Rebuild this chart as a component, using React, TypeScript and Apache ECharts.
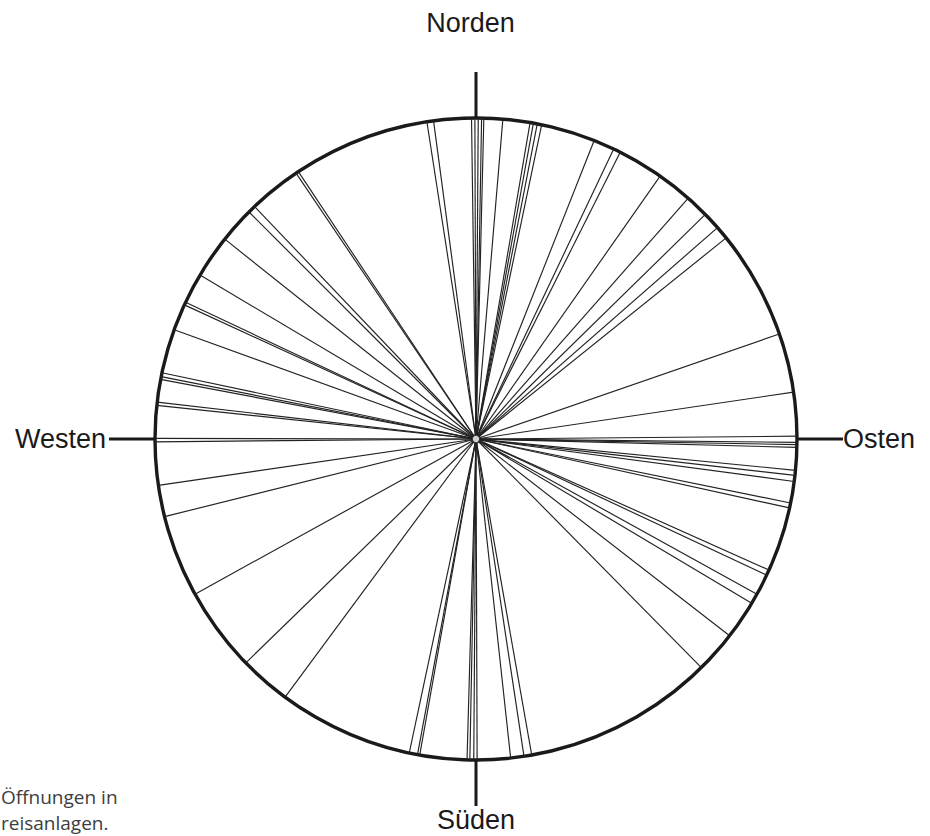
import React, { useEffect, useRef } from 'react';
import * as echarts from 'echarts';

// Compass directions (bearing in degrees, clockwise from north)
const directionAngles = [0, 90, 180, 270];
const directionLabels = ['Norden', 'Osten', 'Süden', 'Westen'];
const directionKeys = ['n', 'o', 's', 'w'];

// Bearings of the openings (degrees clockwise from north)
const openingBearings = [
  351.2, 352.4, 359.2, 359.8, 0.4, 1.0, 1.4, 4.8, 9.7, 10.3, 11.0, 11.8,
  21.6, 25.4, 26.7, 35.0, 41.4, 45.6, 48.8, 51.2, 70.9, 81.6,
  89.5, 90.6, 91.0, 91.5, 95.6, 96.5, 97.6, 101.5, 102.4,
  114.1, 115.1, 118.9, 120.8, 127.8, 135.4,
  170.0, 171.4, 173.8, 179.8, 180.4, 181.1, 181.6, 190.1, 190.5, 192.0,
  216.5, 225.8, 241.1, 256.0, 261.7, 269.5, 270.1, 276.0, 276.6,
  280.7, 281.2, 281.9, 289.9, 294.7, 295.2, 300.7, 308.5, 315.0, 316.4,
  325.9, 326.4,
];

const captionLines = ['Öffnungen in', 'reisanlagen.'];

const LABEL_FONT = '"Liberation Sans", Arial, Helvetica, sans-serif';
const INK = '#1a1a1a';

export default function App() {
  const ref = useRef<HTMLDivElement>(null);

  useEffect(() => {
    if (!ref.current) return;
    const chart = echarts.init(ref.current, null, { renderer: 'svg' });

    const richBase = { fontSize: 27, fontFamily: LABEL_FONT, color: INK };

    chart.setOption({
      animation: false,
      backgroundColor: '#ffffff',
      polar: { center: [476, 439], radius: 321 },
      angleAxis: {
        type: 'value',
        min: 0,
        max: 360,
        interval: 90,
        startAngle: 90,
        clockwise: true,
        axisLine: { show: true, lineStyle: { color: INK, width: 3.4 } },
        axisTick: { show: true, length: 46, lineStyle: { color: INK, width: 3 } },
        splitLine: { show: false },
        axisLabel: {
          show: true,
          margin: 46,
          fontSize: 27,
          fontFamily: LABEL_FONT,
          color: INK,
          formatter: (value: number) => {
            const i = directionAngles.indexOf(((value % 360) + 360) % 360);
            if (i < 0) return '';
            return `{${directionKeys[i]}|${directionLabels[i]}}`;
          },
          rich: {
            n: { ...richBase, padding: [0, 11, 36, 0] },
            o: { ...richBase, padding: [0, 0, 0, 0] },
            s: { ...richBase },
            w: { ...richBase, padding: [0, 3, 0, 0] },
          },
        },
      },
      radiusAxis: {
        type: 'value',
        min: 0,
        max: 1,
        show: false,
        axisLine: { show: false },
        axisTick: { show: false },
        axisLabel: { show: false },
        splitLine: { show: false },
      },
      graphic: captionLines.map((t, i) => ({
        type: 'text',
        left: 1,
        top: 787 + i * 26,
        style: {
          text: t,
          font: '19px "Open Sans", "Noto Sans", sans-serif',
          fill: '#3d3d3d',
        },
      })),
      series: [
        {
          type: 'custom',
          coordinateSystem: 'polar',
          data: openingBearings.map((b) => [1, b]),
          renderItem: (params: any, api: any) => {
            const angle = api.value(1);
            const p0 = api.coord([0, angle]);
            const p1 = api.coord([1, angle]);
            return {
              type: 'line',
              shape: { x1: p0[0], y1: p0[1], x2: p1[0], y2: p1[1] },
              style: { stroke: '#222222', lineWidth: 1.15, fill: null },
            };
          },
          z: 2,
        },
        {
          type: 'scatter',
          coordinateSystem: 'polar',
          data: [[0, 0]],
          symbol: 'circle',
          symbolSize: 8,
          itemStyle: { color: '#ffffff', borderColor: INK, borderWidth: 1.8 },
          z: 5,
          silent: true,
        },
      ],
    });

    return () => chart.dispose();
  }, []);

  return (
    <div
      ref={ref}
      style={{ position: 'fixed', left: 0, top: 0, width: 930, height: 836, background: '#fff' }}
    />
  );
}
